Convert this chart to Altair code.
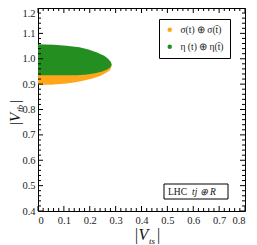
import altair as alt
import pandas as pd

# Green region (eta): right boundary x_max at each y (x from 0)
green_y = [0.935, 0.938, 0.944, 0.950, 0.957, 0.966, 0.976, 0.988, 1.000, 1.012, 1.025, 1.036, 1.045, 1.051, 1.055, 1.057]
green_x = [0.150, 0.190, 0.225, 0.248, 0.265, 0.279, 0.285, 0.281, 0.271, 0.256, 0.228, 0.195, 0.160, 0.110, 0.060, 0.000]
# Orange region (sigma)
orange_y = [0.898, 0.902, 0.907, 0.913, 0.922, 0.932, 0.944, 0.955, 0.968, 0.980, 0.995, 1.010, 1.025, 1.035, 1.040]
orange_x = [0.050, 0.111, 0.145, 0.174, 0.210, 0.240, 0.262, 0.278, 0.284, 0.283, 0.270, 0.240, 0.180, 0.100, 0.000]

series = ["σ(t) ⊕ σ(t̄)", "η (t) ⊕ η(t̄)"]
colors = ["#ffa61a", "#248f20"]

x_major = [0.0, 0.1, 0.2, 0.3, 0.4, 0.5, 0.6, 0.7, 0.8]
y_major = [0.4, 0.5, 0.6, 0.7, 0.8, 0.9, 1.0, 1.1, 1.2]
x_minor = [round(i * 0.02, 2) for i in range(41) if i % 5 != 0]
y_minor = [round(0.4 + i * 0.02, 2) for i in range(41) if i % 5 != 0]

W, H = 207, 203
FONT = "Liberation Serif"

xs = alt.Scale(domain=[0, 0.8], nice=False, zero=False)
ys = alt.Scale(domain=[0.4, 1.2], nice=False, zero=False)

xaxis = alt.Axis(values=x_major, labelExpr="datum.value == 0 ? '0' : format(datum.value, '.1f')",
                 ticks=False, domain=False, grid=False, labelFont=FONT, labelFontSize=10.5,
                 labelColor="#222", labelPadding=4, title=None)
yaxis = alt.Axis(values=y_major, format=".1f", ticks=False, domain=False, grid=False,
                 labelFont=FONT, labelFontSize=10.5, labelColor="#222", labelPadding=3, title=None,
                 labelBaseline={"condition": {"test": "datum.value > 1.19", "value": "top"}, "value": "middle"})

color = alt.Color("s:N", scale=alt.Scale(domain=series, range=colors),
                  legend=alt.Legend(title=None, orient="none", legendX=121, legendY=11,
                                    padding=6, strokeColor="black", fillColor="white",
                                    symbolType="circle", symbolSize=20, symbolStrokeWidth=0,
                                    labelFont=FONT, labelFontSize=9.5, labelColor="#222",
                                    rowPadding=6, labelOffset=6))

df_o = pd.DataFrame({"y": orange_y, "x": orange_x, "s": series[0]})
df_g = pd.DataFrame({"y": green_y, "x": green_x, "s": series[1]})

def area(df):
    return alt.Chart(df).mark_area(orient="horizontal").encode(
        y=alt.Y("y:Q", scale=ys, axis=yaxis),
        x=alt.X("x:Q", scale=xs, axis=xaxis, stack=None),
        color=color,
    )

L_MAJ, L_MIN = 5, 3

def xticks(vals, L):
    d = pd.DataFrame({"v": vals})
    b = alt.Chart(d).mark_rule(color="black", strokeWidth=1).encode(
        x=alt.X("v:Q", scale=xs, axis=xaxis), y=alt.value(H), y2=alt.value(H - L))
    t = alt.Chart(d).mark_rule(color="black", strokeWidth=1).encode(
        x=alt.X("v:Q", scale=xs, axis=xaxis), y=alt.value(0), y2=alt.value(L))
    return [b, t]

def yticks(vals, L):
    d = pd.DataFrame({"v": vals})
    l = alt.Chart(d).mark_rule(color="black", strokeWidth=1).encode(
        y=alt.Y("v:Q", scale=ys, axis=yaxis), x=alt.value(0), x2=alt.value(L))
    r = alt.Chart(d).mark_rule(color="black", strokeWidth=1).encode(
        y=alt.Y("v:Q", scale=ys, axis=yaxis), x=alt.value(W), x2=alt.value(W - L))
    return [l, r]

one = pd.DataFrame({"a": [0]})
box = alt.Chart(one).mark_rect(fill="white", stroke="black", strokeWidth=1).encode(
    x=alt.value(126), x2=alt.value(190), y=alt.value(176), y2=alt.value(191))
lhc1 = alt.Chart(one).mark_text(text="LHC", font=FONT, fontSize=9.5, color="#111", align="left", baseline="middle").encode(
    x=alt.value(130), y=alt.value(184))
lhc2 = alt.Chart(one).mark_text(text="tj ⊕ R", font=FONT, fontSize=9.5, fontStyle="italic", color="#111", align="left", baseline="middle").encode(
    x=alt.value(154), y=alt.value(184))

# axis titles |V_ts| and |V_tb|
xt1 = alt.Chart(one).mark_text(text="|V", font=FONT, fontSize=16, fontStyle="italic", color="#111", align="left", baseline="alphabetic").encode(
    x=alt.value(96), y=alt.value(232))
xt2 = alt.Chart(one).mark_text(text="ts", font=FONT, fontSize=9, fontStyle="italic", color="#111", align="left", baseline="alphabetic").encode(
    x=alt.value(111), y=alt.value(236))
xt3 = alt.Chart(one).mark_text(text="|", font=FONT, fontSize=16, color="#111", align="left", baseline="alphabetic").encode(
    x=alt.value(119), y=alt.value(232))
yt1 = alt.Chart(one).mark_text(text="|V", font=FONT, fontSize=15, fontStyle="italic", color="#111", align="left", baseline="alphabetic", angle=270).encode(
    x=alt.value(-18), y=alt.value(118))
yt2 = alt.Chart(one).mark_text(text="tb", font=FONT, fontSize=9, fontStyle="italic", color="#111", align="left", baseline="alphabetic", angle=270).encode(
    x=alt.value(-15), y=alt.value(104))
yt3 = alt.Chart(one).mark_text(text="|", font=FONT, fontSize=15, color="#111", align="left", baseline="alphabetic", angle=270).encode(
    x=alt.value(-18), y=alt.value(95))

layers = [area(df_o), area(df_g)] + xticks(x_minor, L_MIN) + xticks(x_major, L_MAJ) \
    + yticks(y_minor, L_MIN) + yticks(y_major, L_MAJ) + [box, lhc1, lhc2, xt1, xt2, xt3, yt1, yt2, yt3]

chart = alt.layer(*layers).properties(
    width=W, height=H,
    autosize=alt.AutoSizeParams(type="none"),
    padding={"left": 30, "top": 0, "right": 4, "bottom": 34},
    background="white",
).configure(font=FONT).configure_axis(labelFont=FONT).configure_legend(labelFont=FONT).configure_view(
    stroke="black", strokeWidth=1)

chart.save("out.html", embed_options={"renderer": "svg", "actions": False})
